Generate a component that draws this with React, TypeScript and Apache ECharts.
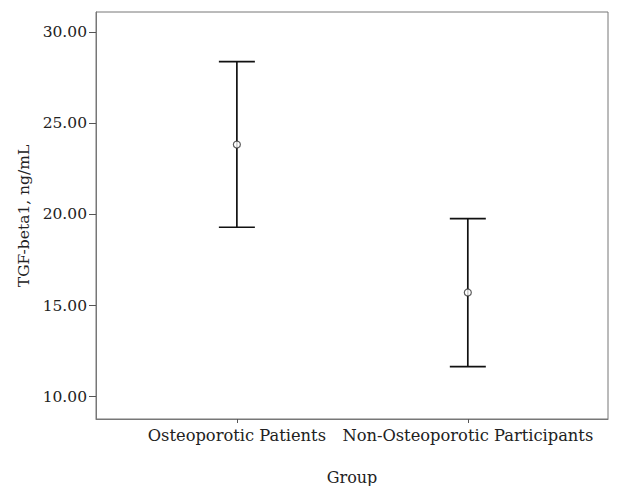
import React, { useEffect, useRef } from "react";
import * as echarts from "echarts";

const categories = ["Osteoporotic Patients", "Non-Osteoporotic Participants"];
const lowerValues = [19.3, 11.65];
const meanValues = [23.84, 15.72];
const upperValues = [28.39, 19.77];
const yTicks = [10, 15, 20, 25, 30];

export default function App() {
  const ref = useRef<HTMLDivElement>(null);
  useEffect(() => {
    if (!ref.current) return;
    const chart = echarts.init(ref.current, null, { renderer: "svg" });
    const font = "DejaVu Serif";
    const errData = categories.map((_, i) => [i + 1, lowerValues[i], upperValues[i]]);
    const meanData = categories.map((_, i) => [i + 1, meanValues[i]]);
    chart.setOption({
      animation: false,
      backgroundColor: "#ffffff",
      grid: {
        left: 96,
        right: 9,
        top: 12,
        bottom: 67,
        show: true,
        borderColor: "#777",
        borderWidth: 1,
        outerBoundsMode: "none",
        containLabel: false,
      },
      xAxis: {
        type: "value",
        min: 0.39,
        max: 2.607,
        name: "Group",
        nameLocation: "middle",
        nameGap: 50,
        nameTextStyle: { fontFamily: font, fontSize: 16, color: "#222" },
        axisLine: { show: true, lineStyle: { color: "#777" } },
        axisTick: { show: true, customValues: [1, 2], length: 4, lineStyle: { color: "#555" } },
        axisLabel: {
          customValues: [1, 2],
          formatter: (v: number) => categories[Math.round(v) - 1] ?? "",
          fontFamily: font,
          fontSize: 16.3,
          color: "#222",
          margin: 8,
        },
        splitLine: { show: false },
      },
      yAxis: {
        type: "value",
        min: 8.77,
        max: 31.12,
        axisLine: { show: true, lineStyle: { color: "#777" } },
        axisTick: { show: true, customValues: yTicks, length: 7, lineStyle: { color: "#555" } },
        axisLabel: {
          customValues: yTicks,
          formatter: (v: number) => v.toFixed(2),
          fontFamily: font,
          fontSize: 15.5,
          color: "#222",
          margin: 9,
        },
        splitLine: { show: false },
      },
      graphic: [
        {
          type: "text",
          x: 24,
          y: 216,
          rotation: Math.PI / 2,
          style: {
            text: "TGF-beta1, ng/mL",
            fontFamily: font,
            fontSize: 15.5,
            fill: "#222",
            align: "center",
            verticalAlign: "middle",
          },
        },
      ],
      series: [
        {
          type: "custom",
          data: errData,
          renderItem: (params: any, api: any) => {
            const x = api.value(0);
            const lo = api.coord([x, api.value(1)]);
            const hi = api.coord([x, api.value(2)]);
            const hw = 18;
            const style = { stroke: "#111", lineWidth: 1.7 };
            return {
              type: "group",
              children: [
                { type: "line", shape: { x1: lo[0], y1: lo[1], x2: hi[0], y2: hi[1] }, style },
                { type: "line", shape: { x1: hi[0] - hw, y1: hi[1], x2: hi[0] + hw, y2: hi[1] }, style },
                { type: "line", shape: { x1: lo[0] - hw, y1: lo[1], x2: lo[0] + hw, y2: lo[1] }, style },
              ],
            };
          },
          z: 2,
        },
        {
          type: "scatter",
          data: meanData,
          symbol: "circle",
          symbolSize: 7,
          itemStyle: { color: "#ffffff", borderColor: "#333", borderWidth: 1.2 },
          z: 3,
        },
      ],
    });
    return () => chart.dispose();
  }, []);
  return <div ref={ref} style={{ width: 617, height: 486, position: "absolute", left: 0, top: 0 }} />;
}
